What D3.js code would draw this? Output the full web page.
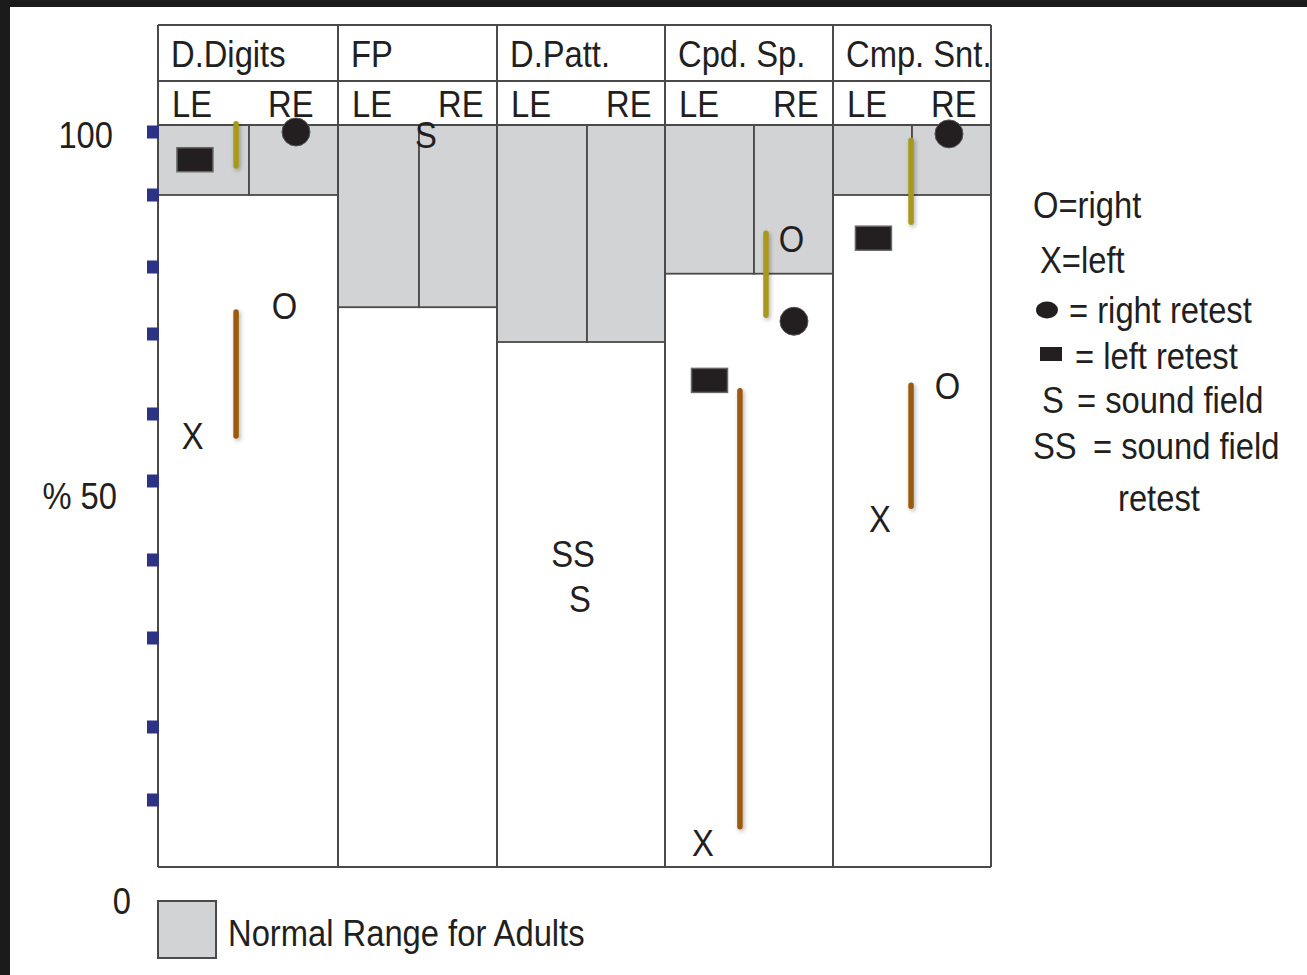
<!DOCTYPE html>
<html><head><meta charset="utf-8">
<script src="https://cdn.jsdelivr.net/npm/d3@7"></script>
<style>
html,body{margin:0;padding:0;background:#1b1b1b;overflow:hidden;}
svg{display:block;}
text{font-family:"Liberation Sans",Arial,sans-serif;fill:#231f20;}
</style></head><body>
<svg id="chart" width="1307" height="975"></svg>
<script>
// ---------------- data ----------------
const tests = ["D.Digits", "FP", "D.Patt.", "Cpd. Sp.", "Cmp. Snt."];
const ears = ["LE", "RE"];
const normalLow = [90, 74, 69, 79, 90];          // lower edge of normal adult range (%), upper edge = 100
const yTickValues = [100, 90, 80, 70, 60, 50, 40, 30, 20, 10];
const yLabelValues = [100, 50, 0];
const yLabelTexts = ["100", "% 50", "0"];

// letter symbols: x in column units (test index + position in test), y in %
const symbolTexts = ["O", "X", "S", "SS", "S", "O", "X", "O", "X"];
const symbolX = [0.70, 0.19, 1.545, 2.422, 2.461, 3.737, 3.213, 4.725, 4.297];
const symbolY = [74.2, 56.7, 99.5, 40.8, 35.1, 83.9, 3.7, 63.6, 45.2];

// right retest (dots)
const rightRetestX = [0.764, 3.753, 4.734];
const rightRetestY = [100, 71.9, 99.7];
// left retest (bars)
const leftRetestX = [0.203, 3.25, 4.256];
const leftRetestY = [95.6, 64.2, 84.0];

// retest spread lines (olive)
const retestLineX = [0.429, 3.576, 4.494];
const retestLineFrom = [101.3, 84.7, 98.7];
const retestLineTo = [94.6, 72.8, 86.2];
// test spread lines (brown)
const testLineX = [0.429, 3.421, 4.494];
const testLineFrom = [73.3, 62.9, 63.6];
const testLineTo = [56.7, 6.0, 46.8];

// legend
const legendSymbols = ["", "", "dot", "bar", "S", "SS", ""];
const legendTexts = ["O=right", "X=left", "= right retest", "= left retest", "= sound field", "= sound field", "retest"];
const normalLegendText = "Normal Range for Adults";

// ---------------- layout ----------------
const svg = d3.select("#chart");
const W = 1307, H = 975;
const left = 158, right = 991, headTop = 25, headMid = 81, plotTop = 125, plotBottom = 867;
const FS = 37, SX = 0.885;
const ink = "#231f20", gridCol = "#4a4a4a", grayFill = "#d1d3d4";
const olive = "#a8981c", brown = "#9b5a10", tickBlue = "#2c3384";

const x = d3.scaleLinear()
  .domain(d3.range(0, tests.length + 0.01, 0.5))
  .range([158, 249, 338, 419, 497, 587, 665, 754, 833, 912, 991]);
const y = d3.scaleLinear()
  .domain([100, 90, 80, 70, 60, 50, 40, 30, 20, 10, 0])
  .range([132, 195, 267, 334, 414, 481, 560, 638, 727, 800, 867]);

// condensed text placement
function place(sel, fx, fy) {
  sel.attr("transform", (d, i) => `translate(${fx(d, i)},${fy(d, i)}) scale(${SX},1)`)
     .attr("font-size", FS);
  return sel;
}

const defs = svg.append("defs");
const f = defs.append("filter").attr("id", "sh").attr("x", "-200%").attr("y", "-20%").attr("width", "500%").attr("height", "140%");
f.append("feDropShadow").attr("dx", 1.5).attr("dy", 2).attr("stdDeviation", 2).attr("flood-color", "#000").attr("flood-opacity", 0.3);

// page
svg.append("rect").attr("x", 10).attr("y", 7).attr("width", W - 10).attr("height", H - 7).attr("fill", "#fff");

// normal range boxes
const cells = [];
tests.forEach((t, i) => ears.forEach((e, j) => cells.push({i, j})));
svg.append("g").selectAll("rect").data(cells).join("rect")
  .attr("x", d => x(d.i + d.j * 0.5))
  .attr("y", plotTop)
  .attr("width", d => x(d.i + (d.j + 1) * 0.5) - x(d.i + d.j * 0.5))
  .attr("height", d => y(normalLow[d.i]) - plotTop)
  .attr("fill", grayFill).attr("stroke", gridCol).attr("stroke-width", 1.8);

// frame & grid
const g = svg.append("g").attr("stroke", gridCol).attr("stroke-width", 2);
g.selectAll("line.v").data(d3.range(tests.length + 1)).join("line").attr("class", "v")
  .attr("x1", d => x(d)).attr("x2", d => x(d)).attr("y1", headTop).attr("y2", plotBottom);
g.selectAll("line.h").data([headTop, headMid, plotTop, plotBottom]).join("line").attr("class", "h")
  .attr("x1", left).attr("x2", right).attr("y1", d => d).attr("y2", d => d);

// header text
place(svg.append("g").selectAll("text").data(tests).join("text"),
  (d, i) => x(i) + 13, () => 67).text(d => d);
place(svg.append("g").selectAll("text").data(cells).join("text"),
  d => d.j === 0 ? x(d.i) + 14 : x(d.i + 0.5) + 19, () => 117).text(d => ears[d.j]);

// y ticks
svg.append("g").selectAll("rect").data(yTickValues).join("rect")
  .attr("x", 147).attr("y", d => y(d) - 6.5).attr("width", 12).attr("height", 13)
  .attr("fill", tickBlue);
const labelNudge = [16, 28, 47];
const labelEnd = [113, 117, 131];
place(svg.append("g").selectAll("text").data(yLabelValues).join("text"),
  (d, i) => labelEnd[i], (d, i) => y(d) + labelNudge[i])
  .attr("text-anchor", "end").text((d, i) => yLabelTexts[i]);

// spread lines
const lineG = svg.append("g").attr("stroke-linecap", "round").attr("stroke-width", 5.5).attr("filter", "url(#sh)");
lineG.selectAll("line.r").data(retestLineX).join("line").attr("class", "r")
  .attr("x1", d => x(d)).attr("x2", d => x(d))
  .attr("y1", (d, i) => y(retestLineFrom[i])).attr("y2", (d, i) => y(retestLineTo[i]))
  .attr("stroke", olive);
lineG.selectAll("line.t").data(testLineX).join("line").attr("class", "t")
  .attr("x1", d => x(d)).attr("x2", d => x(d))
  .attr("y1", (d, i) => y(testLineFrom[i])).attr("y2", (d, i) => y(testLineTo[i]))
  .attr("stroke", brown);

// retest markers
svg.append("g").selectAll("circle").data(rightRetestX).join("circle")
  .attr("cx", d => x(d)).attr("cy", (d, i) => y(rightRetestY[i])).attr("r", 14)
  .attr("fill", ink).attr("stroke", "#555").attr("stroke-width", 1);
svg.append("g").selectAll("rect").data(leftRetestX).join("rect")
  .attr("x", d => x(d) - 18).attr("y", (d, i) => y(leftRetestY[i]) - 12)
  .attr("width", 36).attr("height", 24)
  .attr("fill", ink).attr("stroke", "#666").attr("stroke-width", 1.5);

// letter symbols
place(svg.append("g").selectAll("text").data(symbolTexts).join("text"),
  (d, i) => x(symbolX[i]), (d, i) => y(symbolY[i]))
  .attr("dy", "0.36em").attr("text-anchor", "middle").text(d => d);

// legend (right)
const legX = [1033, 1040, 1069, 1075, 1077, 1093, 1118];
const legY = [205, 260, 310, 356, 400, 446, 498];
const symX = [0, 0, 1047, 1051, 1042, 1033, 0];
const lg = svg.append("g");
place(lg.selectAll("text").data(legendTexts).join("text"),
  (d, i) => legX[i], (d, i) => legY[i]).attr("dy", "0.36em").text(d => d);
legendSymbols.forEach((s, i) => {
  if (s === "dot") lg.append("ellipse").attr("cx", symX[i]).attr("cy", legY[i]).attr("rx", 11).attr("ry", 8.5).attr("fill", ink);
  else if (s === "bar") lg.append("rect").attr("x", symX[i] - 11).attr("y", legY[i] - 9).attr("width", 22).attr("height", 14).attr("fill", ink);
  else if (s) place(lg.append("text").datum(s), () => symX[i], () => legY[i]).attr("dy", "0.36em").text(s);
});

// normal range legend
svg.append("rect").attr("x", 158).attr("y", 901).attr("width", 58).attr("height", 57)
  .attr("fill", grayFill).attr("stroke", gridCol).attr("stroke-width", 2);
place(svg.append("text").datum(normalLegendText), () => 228, () => 946).text(normalLegendText);
</script>
</body></html>
